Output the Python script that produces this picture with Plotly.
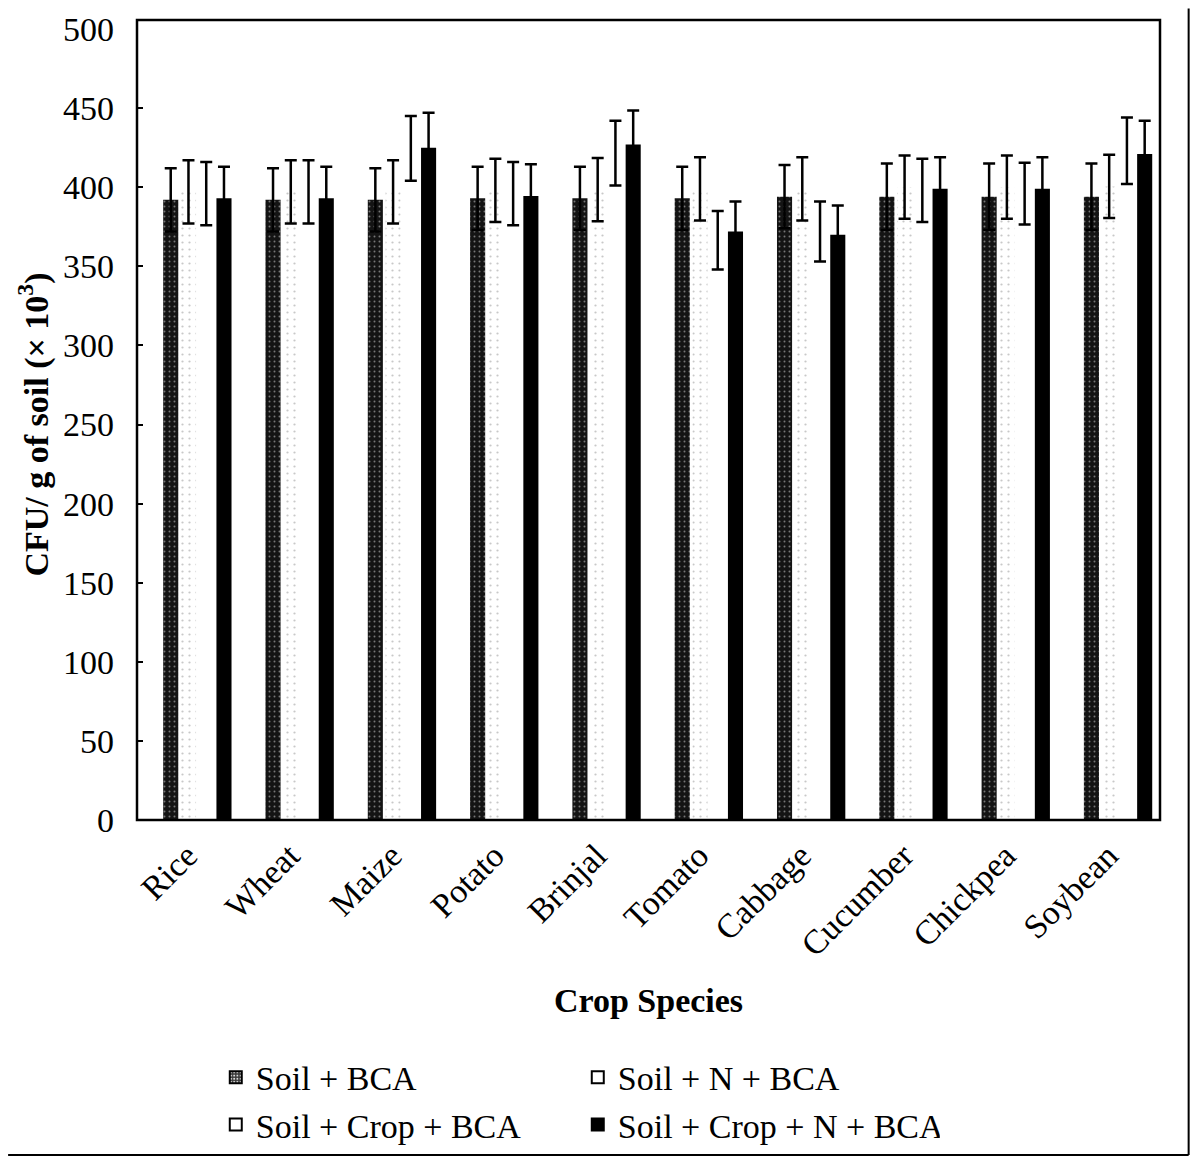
import plotly.graph_objects as go

crops = ["Rice", "Wheat", "Maize", "Potato", "Brinjal", "Tomato", "Cabbage",
         "Cucumber", "Chickpea", "Soybean"]

series_names = ["Soil + BCA", "Soil + N + BCA", "Soil + Crop + BCA", "Soil + Crop + N + BCA"]

soil_bca = [392, 392, 392, 393, 393, 393, 394, 394, 394, 394]
soil_bca_err = [20, 20, 20, 20, 20, 20, 20, 21, 21, 21]

soil_n_bca = [397, 397, 397, 398, 398.5, 399, 399, 400, 400, 400.5]
soil_n_bca_err = [20, 20, 20, 20, 20, 20, 20, 20, 20, 20]

soil_crop_bca = [396, 397, 424.5, 396, 421.5, 366.5, 372, 398, 396, 423]
soil_crop_bca_err = [20, 20, 20.5, 20, 20.5, 18.5, 19, 20, 19.5, 21]

soil_crop_n_bca = [393, 393, 425, 394.5, 427, 372, 370, 399, 399, 421]
soil_crop_n_bca_err = [20, 20, 22, 20, 21.5, 19, 18.5, 20, 20, 21]

y_ticks = [0, 50, 100, 150, 200, 250, 300, 350, 400, 450, 500]

FONT = "Liberation Serif"

values = [soil_bca, soil_n_bca, soil_crop_bca, soil_crop_n_bca]
errors = [soil_bca_err, soil_n_bca_err, soil_crop_bca_err, soil_crop_n_bca_err]
groups = ["g1", "g2", "g3", "g4"]

bar_markers = [
    dict(color="#141414", line=dict(width=0),
         pattern=dict(shape=".", fillmode="replace", bgcolor="#141414",
                      fgcolor="#777777", size=5, solidity=0.12)),
    dict(color="white", line=dict(width=0),
         pattern=dict(shape=".", fillmode="replace", bgcolor="white",
                      fgcolor="#c8c8c8", size=7, solidity=0.08)),
    dict(color="white", line=dict(width=0)),
    dict(color="black", line=dict(width=0)),
]

legend_markers = [
    dict(color="#3a3a3a", line=dict(width=2, color="black"),
         pattern=dict(shape=".", fillmode="replace", bgcolor="#3a3a3a",
                      fgcolor="#dddddd", size=4, solidity=0.3)),
    dict(color="white", line=dict(width=2, color="black")),
    dict(color="white", line=dict(width=2, color="black")),
    dict(color="black", line=dict(width=2, color="black")),
]

fig = go.Figure()

for name, vals, errs, mk, g in zip(series_names, values, errors, bar_markers, groups):
    fig.add_trace(go.Bar(
        x=crops, y=vals, name=name, showlegend=False, offsetgroup=g,
        marker=mk,
        error_y=dict(type="data", array=errs, visible=True,
                     color="black", thickness=2.5, width=6),
    ))

# legend entries only (share the slot of their series, draw nothing)
for name, mk, g in zip(series_names, legend_markers, groups):
    fig.add_trace(go.Bar(x=[crops[0]], y=[None], name=name, marker=mk,
                         offsetgroup=g, showlegend=True))

fig.update_layout(
    width=1194, height=1158, autosize=False,
    margin=dict(l=129, r=42, t=21, b=341),
    paper_bgcolor="white", plot_bgcolor="white",
    barmode="group", bargap=0.306, bargroupgap=0.15,
    font=dict(family=FONT, color="black", size=34),
    showlegend=True,
    legend=dict(orientation="h", x=0.077, xanchor="left", y=-0.289, yanchor="top",
                entrywidth=317, entrywidthmode="pixels",
                font=dict(family=FONT, size=34, color="black"),
                bgcolor="rgba(0,0,0,0)", traceorder="normal"),
    xaxis=dict(type="category", range=[-0.59, 9.41], tickangle=-45,
               automargin=False, ticklabelstandoff=8, ticklabelshift=-10,
               showline=False, ticks="", showgrid=False, zeroline=False,
               tickfont=dict(family=FONT, size=34, color="black"),
               title=dict(text="<b>Crop Species</b>", standoff=26,
                          font=dict(family=FONT, size=34, color="black"))),
    yaxis=dict(range=[0, 500], tickvals=y_ticks, ticks="inside", ticklen=6,
               automargin=False, ticklabeloverflow="allow",
               tickwidth=2, tickcolor="black",
               showline=False, showgrid=False, zeroline=False, ticklabelstandoff=22,
               tickfont=dict(family=FONT, size=34, color="black"),
               title=dict(text="<b>CFU/ g of soil (× 10<sup>3</sup>)</b>", standoff=4,
                          font=dict(family=FONT, size=34, color="black"))),
    shapes=[
        # plot frame
        dict(type="rect", xref="paper", yref="paper", x0=0, x1=1, y0=0, y1=1.0113,
             line=dict(color="black", width=2.5), fillcolor="rgba(0,0,0,0)", layer="above"),
        # outer figure border (right and bottom)
        dict(type="line", xref="paper", yref="paper", x0=1.028, x1=1.028,
             y0=-0.4234, y1=1.026, line=dict(color="black", width=2)),
        dict(type="line", xref="paper", yref="paper", x0=-0.126, x1=1.028,
             y0=-0.4234, y1=-0.4234, line=dict(color="black", width=2)),
    ],
)

fig.write_html("out.html")
